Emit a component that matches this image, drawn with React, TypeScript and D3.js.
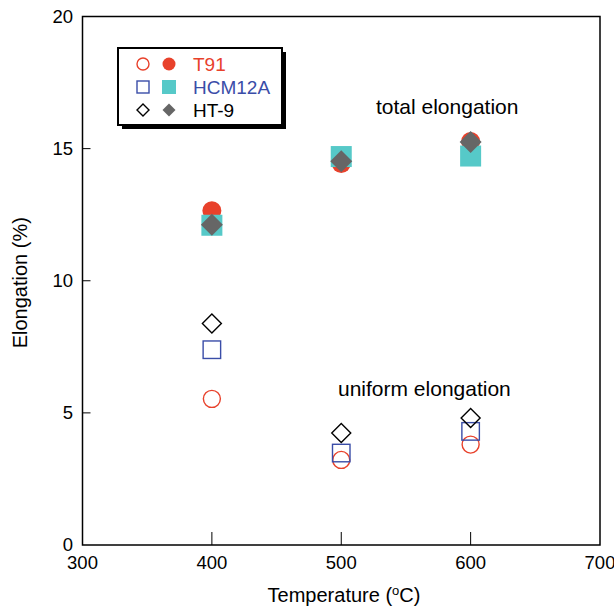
import React from "react";
import * as d3 from "d3";

// Temperatures (°C) of the tensile tests
const temperatures = [400, 500, 600];

// Total elongation (%)
const t91Total = [12.65, 14.44, 15.27];
const hcmTotal = [12.1, 14.7, 14.72];
const ht9Total = [12.12, 14.52, 15.25];

// Uniform elongation (%)
const t91Uniform = [5.53, 3.22, 3.8];
const hcmUniform = [7.39, 3.48, 4.3];
const ht9Uniform = [8.38, 4.24, 4.81];

const xTicks = [300, 400, 500, 600, 700];
const yTicks = [0, 5, 10, 15, 20];

const RED = "#E8412B";
const TEAL = "#56C9C8";
const GRAY = "#666666";
const BLUE = "#3A4DA8";
const FONT = "'Liberation Sans', Arial, Helvetica, sans-serif";

const W = 614;
const H = 606;
const left = 82.5;
const right = 600;
const top = 16.5;
const bottom = 545;

const x = d3.scaleLinear().domain([300, 700]).range([left, right]);
const y = d3.scaleLinear().domain([0, 20]).range([bottom, top]);

type Shape = "circle" | "square" | "diamond";

function Marker({ shape, cx, cy, size, fill, stroke }: {
  shape: Shape; cx: number; cy: number; size: number; fill: string; stroke: string;
}) {
  const sw = fill === "none" ? 1.4 : 0;
  if (shape === "circle") {
    return <circle cx={cx} cy={cy} r={size / 2} fill={fill} stroke={stroke} strokeWidth={sw} />;
  }
  if (shape === "square") {
    return <rect x={cx - size / 2} y={cy - size / 2} width={size} height={size} fill={fill} stroke={stroke} strokeWidth={sw} />;
  }
  const h = size / 2;
  return (
    <path d={`M${cx},${cy - h}L${cx + h},${cy}L${cx},${cy + h}L${cx - h},${cy}Z`} fill={fill} stroke={stroke} strokeWidth={sw} />
  );
}

export default function App() {
  const filled = [
    { vals: t91Total, shape: "circle" as Shape, fill: RED, size: 19 },
    { vals: hcmTotal, shape: "square" as Shape, fill: TEAL, size: 21 },
    { vals: ht9Total, shape: "diamond" as Shape, fill: GRAY, size: 22 },
  ];
  const open = [
    { vals: t91Uniform, shape: "circle" as Shape, stroke: RED, size: 17 },
    { vals: hcmUniform, shape: "square" as Shape, stroke: BLUE, size: 17.5 },
    { vals: ht9Uniform, shape: "diamond" as Shape, stroke: "#000", size: 19 },
  ];
  const legend = [
    { name: "T91", shape: "circle" as Shape, open: RED, fill: RED, color: RED, os: 12, fs: 13 },
    { name: "HCM12A", shape: "square" as Shape, open: BLUE, fill: TEAL, color: BLUE, os: 12, fs: 14 },
    { name: "HT-9", shape: "diamond" as Shape, open: "#000", fill: GRAY, color: "#000", os: 12, fs: 13 },
  ];

  return (
    <svg width={W} height={H} style={{ position: "absolute", left: 0, top: 0, background: "#fff" }} fontFamily={FONT}>
      {/* frame */}
      <rect x={left} y={top} width={right - left} height={bottom - top} fill="none" stroke="#000" strokeWidth={1.5} />

      {/* x ticks (inside) */}
      {xTicks.map((t) => (
        <g key={"x" + t}>
          {t > 300 && t < 700 && <line x1={x(t)} x2={x(t)} y1={bottom} y2={bottom - 13} stroke="#000" strokeWidth={1} />}
          <text x={x(t)} y={569} fontSize={18.5} textAnchor="middle" fill="#000">{t}</text>
        </g>
      ))}

      {/* y ticks (inside) */}
      {yTicks.map((t) => (
        <g key={"y" + t}>
          {t > 0 && t < 20 && <line x1={left} x2={left + 8} y1={y(t)} y2={y(t)} stroke="#000" strokeWidth={1} />}
          <text x={73} y={y(t) + 6} fontSize={18.5} textAnchor="end" fill="#000">{t}</text>
        </g>
      ))}

      {/* axis titles */}
      <text x={344} y={602} fontSize={20} textAnchor="middle" fill="#000">
        Temperature (<tspan dy={-7} fontSize={13}>o</tspan><tspan dy={7}>C)</tspan>
      </text>
      <text transform={`translate(27,${(top + bottom) / 2 + 2}) rotate(-90)`} fontSize={20} textAnchor="middle" fill="#000">
        Elongation (%)
      </text>

      {/* uniform elongation: open markers */}
      {open.map((s, i) =>
        s.vals.map((v, j) => (
          <Marker key={`o${i}-${j}`} shape={s.shape} cx={x(temperatures[j])} cy={y(v)} size={s.size} fill="none" stroke={s.stroke} />
        ))
      )}

      {/* total elongation: filled markers */}
      {filled.map((s, i) =>
        s.vals.map((v, j) => (
          <Marker key={`f${i}-${j}`} shape={s.shape} cx={x(temperatures[j])} cy={y(v)} size={s.size} fill={s.fill} stroke="none" />
        ))
      )}

      {/* annotations */}
      <text x={376} y={114} fontSize={21} fill="#000">total elongation</text>
      <text x={338} y={396} fontSize={21} fill="#000">uniform elongation</text>

      {/* legend with drop shadow */}
      <rect x={122} y={52} width={164} height={77} fill="#000" />
      <rect x={118} y={48} width={164} height={77} fill="#fff" stroke="#000" strokeWidth={2} />
      {legend.map((l, i) => {
        const cy = 64 + i * 23;
        return (
          <g key={l.name}>
            <Marker shape={l.shape} cx={143} cy={cy} size={l.os} fill="none" stroke={l.open} />
            <Marker shape={l.shape} cx={169} cy={cy} size={l.fs} fill={l.fill} stroke="none" />
            <text x={193} y={cy + 7} fontSize={19} fill={l.color}>{l.name}</text>
          </g>
        );
      })}
    </svg>
  );
}
